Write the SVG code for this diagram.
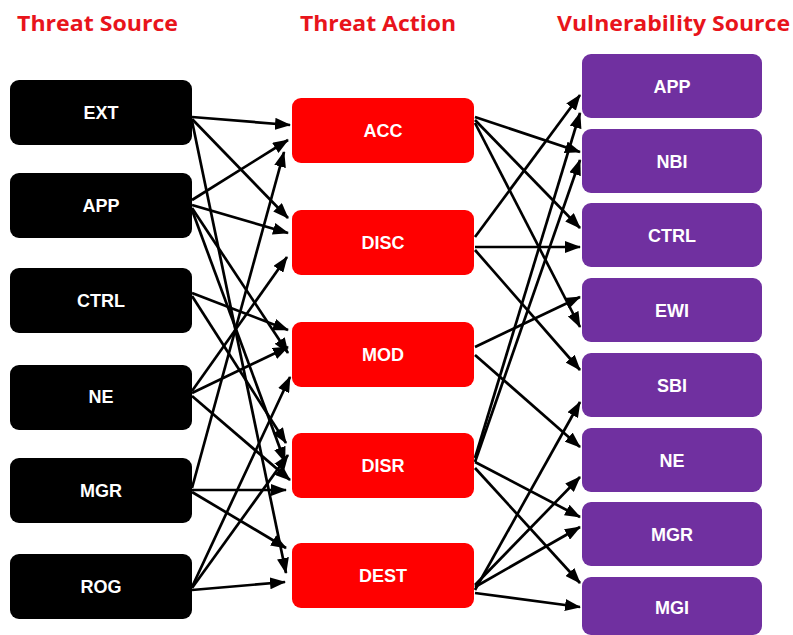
<svg xmlns="http://www.w3.org/2000/svg" width="793" height="635" viewBox="0 0 793 635">
<defs>
<marker id="ah" viewBox="0 0 16 12" refX="15" refY="6" markerWidth="16" markerHeight="12" markerUnits="userSpaceOnUse" orient="auto"><path d="M0,0 L16,6 L0,12 Z" fill="#000"/></marker>
<style>
.hd{font-family:"Open Sans","Liberation Sans",sans-serif;font-weight:bold;font-size:22px;fill:#e8141b}
.lb{font-family:"Liberation Sans",Arial,sans-serif;font-weight:bold;font-size:18px;fill:#fff;text-anchor:middle;dominant-baseline:central}
.src rect{fill:#000}
.act rect{fill:#ff0000}
.vul rect{fill:#7030a0}
.cn line{stroke:#000;stroke-width:2.7;marker-end:url(#ah)}
</style>
</defs>
<rect width="793" height="635" fill="#fff"/>
<text class="hd" x="17" y="31" textLength="161" lengthAdjust="spacingAndGlyphs">Threat Source</text>
<text class="hd" x="300" y="31" textLength="156" lengthAdjust="spacingAndGlyphs">Threat Action</text>
<text class="hd" x="557" y="31" textLength="233" lengthAdjust="spacingAndGlyphs">Vulnerability Source</text>

<g class="cn" id="connectors">
<line x1="192" y1="117" x2="290" y2="125"/>
<line x1="192" y1="119" x2="288" y2="218"/>
<line x1="192" y1="121" x2="286" y2="573"/>
<line x1="192" y1="200" x2="288" y2="140"/>
<line x1="192" y1="205" x2="288" y2="233"/>
<line x1="192" y1="208" x2="288" y2="353"/>
<line x1="192" y1="210" x2="285" y2="462"/>
<line x1="192" y1="293" x2="288" y2="330"/>
<line x1="192" y1="296" x2="286" y2="443"/>
<line x1="192" y1="391" x2="287" y2="257"/>
<line x1="192" y1="393" x2="288" y2="347"/>
<line x1="192" y1="396" x2="290" y2="480"/>
<line x1="192" y1="488" x2="284" y2="152"/>
<line x1="192" y1="490" x2="286" y2="490"/>
<line x1="192" y1="492" x2="286" y2="548"/>
<line x1="192" y1="590" x2="285" y2="582"/>
<line x1="192" y1="587" x2="290" y2="377"/>
<line x1="192" y1="588" x2="288" y2="455"/>

<line x1="475" y1="117" x2="580" y2="152"/>
<line x1="475" y1="120" x2="580" y2="228"/>
<line x1="475" y1="123" x2="580" y2="327"/>
<line x1="475" y1="237" x2="580" y2="95"/>
<line x1="475" y1="247" x2="580" y2="247"/>
<line x1="475" y1="250" x2="580" y2="370"/>
<line x1="475" y1="347" x2="580" y2="297"/>
<line x1="475" y1="355" x2="580" y2="447"/>
<line x1="475" y1="458" x2="580" y2="113"/>
<line x1="475" y1="462" x2="580" y2="160"/>
<line x1="475" y1="462" x2="580" y2="517"/>
<line x1="475" y1="468" x2="580" y2="583"/>
<line x1="475" y1="590" x2="580" y2="402"/>
<line x1="475" y1="585" x2="580" y2="477"/>
<line x1="475" y1="587" x2="580" y2="527"/>
<line x1="475" y1="593" x2="580" y2="607"/>
</g>

<g class="src" id="src-ext"><rect x="10" y="80" width="182" height="65" rx="9"/><text class="lb" x="101" y="113">EXT</text></g>
<g class="src" id="src-app"><rect x="10" y="173" width="182" height="65" rx="9"/><text class="lb" x="101" y="206">APP</text></g>
<g class="src" id="src-ctrl"><rect x="10" y="268" width="182" height="65" rx="9"/><text class="lb" x="101" y="301">CTRL</text></g>
<g class="src" id="src-ne"><rect x="10" y="365" width="182" height="65" rx="9"/><text class="lb" x="101" y="397">NE</text></g>
<g class="src" id="src-mgr"><rect x="10" y="458" width="182" height="65" rx="9"/><text class="lb" x="101" y="491">MGR</text></g>
<g class="src" id="src-rog"><rect x="10" y="554" width="182" height="65" rx="9"/><text class="lb" x="101" y="587">ROG</text></g>

<g class="act" id="act-acc"><rect x="292" y="98" width="182" height="65" rx="9"/><text class="lb" x="383" y="131">ACC</text></g>
<g class="act" id="act-disc"><rect x="292" y="210" width="182" height="65" rx="9"/><text class="lb" x="383" y="243">DISC</text></g>
<g class="act" id="act-mod"><rect x="292" y="322" width="182" height="65" rx="9"/><text class="lb" x="383" y="355">MOD</text></g>
<g class="act" id="act-disr"><rect x="292" y="433" width="182" height="65" rx="9"/><text class="lb" x="383" y="466">DISR</text></g>
<g class="act" id="act-dest"><rect x="292" y="543" width="182" height="65" rx="9"/><text class="lb" x="383" y="576">DEST</text></g>

<g class="vul" id="vul-app"><rect x="582" y="54" width="180" height="64" rx="9"/><text class="lb" x="672" y="87">APP</text></g>
<g class="vul" id="vul-nbi"><rect x="582" y="129" width="180" height="64" rx="9"/><text class="lb" x="672" y="162">NBI</text></g>
<g class="vul" id="vul-ctrl"><rect x="582" y="203" width="180" height="64" rx="9"/><text class="lb" x="672" y="236">CTRL</text></g>
<g class="vul" id="vul-ewi"><rect x="582" y="278" width="180" height="64" rx="9"/><text class="lb" x="672" y="311">EWI</text></g>
<g class="vul" id="vul-sbi"><rect x="582" y="353" width="180" height="64" rx="9"/><text class="lb" x="672" y="386">SBI</text></g>
<g class="vul" id="vul-ne"><rect x="582" y="428" width="180" height="64" rx="9"/><text class="lb" x="672" y="461">NE</text></g>
<g class="vul" id="vul-mgr"><rect x="582" y="502" width="180" height="64" rx="9"/><text class="lb" x="672" y="535">MGR</text></g>
<g class="vul" id="vul-mgi"><rect x="582" y="577" width="180" height="58" rx="9"/><text class="lb" x="672" y="608">MGI</text></g>
</svg>
